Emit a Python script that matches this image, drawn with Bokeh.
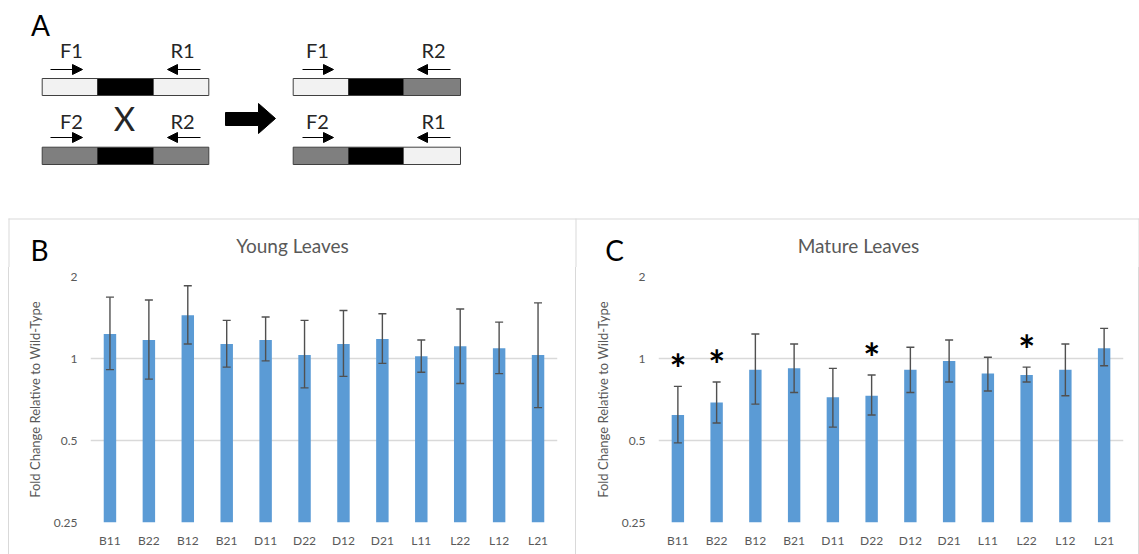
from bokeh.plotting import figure
from bokeh.models import (Range1d, FixedTicker, CustomJSTickFormatter, ColumnDataSource,
                          Whisker, TeeHead, Arrow, NormalHead, FactorRange, Spacer)
from bokeh.layouts import column, row
from bokeh.embed import file_html
from bokeh.resources import INLINE
from bokeh.core.properties import value

# ---------------- data ----------------
categories = ["B11", "B22", "B12", "B21", "D11", "D22", "D12", "D21", "L11", "L22", "L12", "L21"]
young_mean = [1.23, 1.17, 1.44, 1.13, 1.17, 1.03, 1.13, 1.18, 1.02, 1.11, 1.09, 1.03]
young_upper = [1.68, 1.64, 1.85, 1.38, 1.42, 1.38, 1.50, 1.46, 1.17, 1.52, 1.36, 1.60]
young_lower = [0.91, 0.84, 1.13, 0.93, 0.98, 0.78, 0.86, 0.96, 0.89, 0.81, 0.88, 0.66]
mature_mean = [0.62, 0.69, 0.91, 0.92, 0.72, 0.73, 0.91, 0.98, 0.88, 0.87, 0.91, 1.09]
mature_upper = [0.79, 0.82, 1.23, 1.13, 0.92, 0.87, 1.10, 1.17, 1.01, 0.93, 1.13, 1.29]
mature_lower = [0.49, 0.58, 0.68, 0.75, 0.56, 0.62, 0.75, 0.82, 0.76, 0.82, 0.73, 0.94]
mature_significant = ["B11", "B22", "D22", "L22"]
y_ticks = [0.25, 0.5, 1, 2]
y_axis_label = "Fold Change Relative to Wild-Type"
panel_titles = ["Young Leaves", "Mature Leaves"]
panel_letters = ["A", "B", "C"]

# ---------------- schematic (panel A) ----------------
primer_labels = ["F1", "R1", "F2", "R2", "F1", "R2", "F2", "R1"]
primer_label_x = [71, 182, 71, 182, 317, 433, 317, 433]
primer_label_y = [49, 49, 120, 120, 49, 49, 120, 120]
arrow_x_start = [50, 50, 302, 302, 200, 200, 450, 450]
arrow_x_end = [82, 82, 333, 333, 167, 167, 417, 417]
arrow_y = [69, 137, 69, 137, 69, 137, 69, 137]
construct_edges_left = [41.7, 96.7, 153.3, 208.3]
construct_edges_right = [292.7, 347.7, 403.3, 460.0]
construct_rows = [(78, 95), (146.7, 164)]
LIGHT, DARK, GRAY = "#F2F2F2", "#000000", "#7F7F7F"
construct_colors = {
    (0, 0): [LIGHT, DARK, LIGHT],
    (0, 1): [GRAY, DARK, GRAY],
    (1, 0): [LIGHT, DARK, GRAY],
    (1, 1): [GRAY, DARK, LIGHT],
}
big_arrow_x = [225, 258, 258, 275, 258, 258, 225]
big_arrow_y = [112, 112, 103, 118, 133, 125, 125]
letter_x = [40, 39, 614]
letter_y = [24, 249, 249]
title_x = [292, 858]
title_y = [245, 245]

FONT = "Lato"
TXT = "#595959"
BLUE = "#5B9BD5"
GRID = "#D9D9D9"
TOTAL_W = 1139
TOTAL_H = 554
BOX_TOP = 218
BOX_X = [8.5, 575.5, 1138.5]

# ---------------- top figure: panel A + headers of B and C ----------------
HA = 267
pa = figure(width=TOTAL_W, height=HA, x_range=Range1d(0, TOTAL_W), y_range=Range1d(HA, 0),
            output_backend="svg", toolbar_location=None, min_border=0)
pa.axis.visible = False
pa.grid.visible = False
pa.outline_line_color = None

L, R, T, B, C = [], [], [], [], []
OL, OR, OT, OB = [], [], [], []
for gi, edges in enumerate([construct_edges_left, construct_edges_right]):
    for ri, (top, bot) in enumerate(construct_rows):
        cols = construct_colors[(gi, ri)]
        for k in range(3):
            L.append(edges[k]); R.append(edges[k + 1]); T.append(top); B.append(bot); C.append(cols[k])
        OL.append(edges[0]); OR.append(edges[-1]); OT.append(top); OB.append(bot)
pa.quad(left=L, right=R, top=T, bottom=B, fill_color=C, line_color=None)
pa.quad(left=OL, right=OR, top=OT, bottom=OB, fill_color=None, line_color="#404040", line_width=1)

asrc = ColumnDataSource(dict(x0=arrow_x_start, x1=arrow_x_end, y=arrow_y))
pa.add_layout(Arrow(x_start="x0", y_start="y", x_end="x1", y_end="y", source=asrc,
                    line_color="#000000", line_width=1,
                    end=NormalHead(size=10, fill_color="#000000", line_color="#000000")))
pa.patch(big_arrow_x, big_arrow_y, color="#000000")
pa.text(x=primer_label_x, y=primer_label_y, text=primer_labels, text_font=value(FONT),
        text_font_size="20px", text_align="center", text_baseline="middle", text_color="#262626")
pa.text(x=[124], y=[117], text=["X"], text_font=value(FONT), text_font_size="33px",
        text_align="center", text_baseline="middle", text_color="#262626")
pa.text(x=letter_x[:1], y=letter_y[:1], text=panel_letters[:1], text_font=value(FONT),
        text_font_size="28px", text_align="center", text_baseline="middle", text_color="#000000")
pa.text(x=letter_x[1:], y=letter_y[1:], text=panel_letters[1:], text_font=value(FONT),
        text_font_size="28px", text_align="center", text_baseline="middle", text_color="#000000")
pa.text(x=title_x, y=title_y, text=panel_titles, text_font=value(FONT), text_font_size="19px",
        text_align="center", text_baseline="middle", text_color=TXT)
# box outlines around panels B and C (upper part)
pa.segment(x0=[8], y0=[BOX_TOP + 0.5], x1=[TOTAL_W], y1=[BOX_TOP + 0.5], line_color=GRID, line_width=1)
pa.segment(x0=BOX_X, y0=[BOX_TOP] * 3, x1=BOX_X, y1=[HA] * 3, line_color=GRID, line_width=1)

# ---------------- bar panels ----------------
HC = TOTAL_H - HA          # chart height
FRAME_TOP, FRAME_BOTTOM = 276, 522


def make_chart(width, left_border, right_border, mean, upper, lower, stars):
    src = ColumnDataSource(dict(x=categories, top=mean, upper=upper, lower=lower))
    p = figure(width=width, height=HC, x_range=FactorRange(*categories), y_range=Range1d(0.25, 2),
               y_axis_type="log", output_backend="svg", toolbar_location=None,
               min_border_left=left_border, min_border_right=right_border,
               min_border_top=FRAME_TOP - HA, min_border_bottom=TOTAL_H - FRAME_BOTTOM)
    p.outline_line_color = None
    p.xgrid.visible = False
    p.ygrid.grid_line_color = GRID
    p.ygrid.grid_line_width = 1.3
    p.yaxis.ticker = FixedTicker(ticks=y_ticks)
    p.yaxis.formatter = CustomJSTickFormatter(code="return tick.toString();")
    for ax in (p.xaxis[0], p.yaxis[0]):
        ax.axis_line_color = None
        ax.major_tick_line_color = None
        ax.minor_tick_line_color = None
        ax.major_tick_out = 0
        ax.major_tick_in = 0
        ax.major_label_text_color = TXT
        ax.major_label_text_font = FONT
        ax.major_label_text_font_size = "12px"
    p.yaxis.major_label_standoff = 13
    p.xaxis.major_label_standoff = 10
    p.yaxis.axis_label = y_axis_label
    p.yaxis.axis_label_text_font = FONT
    p.yaxis.axis_label_text_font_size = "13px"
    p.yaxis.axis_label_text_font_style = "normal"
    p.yaxis.axis_label_text_color = TXT
    p.yaxis.axis_label_standoff = 8

    p.vbar(x="x", top="top", bottom=0.25, width=0.32, source=src, fill_color=BLUE, line_color=None)
    p.add_layout(Whisker(source=src, base="x", upper="upper", lower="lower",
                         line_color="#505050", line_width=1.4, level="annotation",
                         upper_head=TeeHead(size=8, line_color="#505050", line_width=1.4),
                         lower_head=TeeHead(size=8, line_color="#505050", line_width=1.4)))
    if stars:
        sx = [c for c in categories if c in stars]
        sy = [upper[categories.index(c)] for c in sx]
        p.text(x=sx, y=sy, text=["*"] * len(sx), text_font=value(FONT), text_font_size="40px",
               text_font_style="bold", text_align="center", text_baseline="alphabetic",
               y_offset=-17, text_color="#000000")
    return p


def vline():
    return Spacer(width=1, height=HC, styles={"background-color": GRID})


pb = make_chart(566, 81, 18, young_mean, young_upper, young_lower, [])
pc = make_chart(562, 82, 15, mature_mean, mature_upper, mature_lower, mature_significant)

bottom = row(Spacer(width=8, height=HC), vline(), pb, vline(), pc, vline(), spacing=0)
layout = column(pa, bottom, spacing=0)
open("out.html", "w").write(file_html(layout, INLINE))
